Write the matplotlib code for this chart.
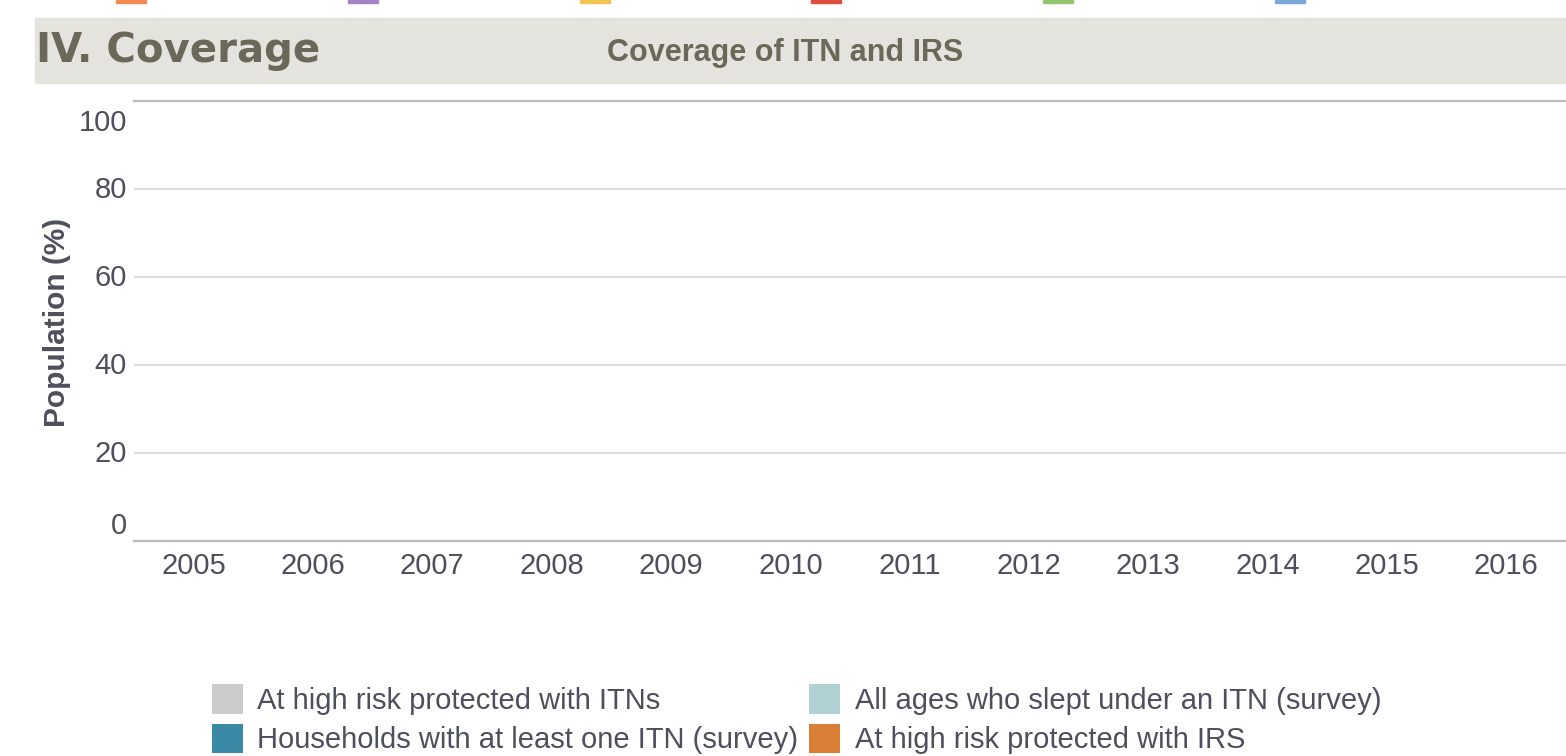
import numpy as np
import matplotlib
matplotlib.use("Agg")
import matplotlib.pyplot as plt
from matplotlib.patches import Rectangle, Patch
from matplotlib.transforms import ScaledTranslation

years = [2005, 2006, 2007, 2008, 2009, 2010, 2011, 2012, 2013, 2014, 2015, 2016]
series_names = ["At high risk protected with ITNs",
                "All ages who slept under an ITN (survey)",
                "Households with at least one ITN (survey)",
                "At high risk protected with IRS"]
series_colors = ["#cccccc", "#b0d1d3", "#3a89a5", "#d97f35"]
# no values are reported for any year
itn_high_risk = [np.nan] * 12
slept_under_itn = [np.nan] * 12
households_itn = [np.nan] * 12
irs_high_risk = [np.nan] * 12
series_values = [itn_high_risk, slept_under_itn, households_itn, irs_high_risk]

yticks = [0, 20, 40, 60, 80, 100]
strip_colors = ["#f28a52", "#a383c6", "#f0c352", "#e04c3d", "#93c46f", "#7aa8da"]

text_col = "#4d4f5c"
head_col = "#6b6859"

W, H = 1566, 756
fig = plt.figure(figsize=(W / 100, H / 100), dpi=100)
fig.patch.set_facecolor("white")

# cut-off legend swatches along the top edge
for i, c in enumerate(strip_colors):
    x0 = 116 + i * 231.8
    fig.patches.append(Rectangle((x0 / W, 1 - 3 / H), 30 / W, 3 / H,
                                 transform=fig.transFigure, color=c))

# header band
fig.patches.append(Rectangle((35 / W, 1 - 83 / H), 1 - 35 / W, 65 / H,
                             transform=fig.transFigure, color="#e4e3de", zorder=0))
fig.text(36 / W, 1 - 51 / H, "IV. Coverage", fontsize=29, fontweight="bold",
         family="DejaVu Sans", color=head_col, va="center", ha="left")
fig.text(785 / W, 1 - 53 / H, "Coverage of ITN and IRS", fontsize=22,
         fontweight="bold", family=["Liberation Sans Narrow", "Liberation Sans"],
         color=head_col, va="center", ha="center")

ax = fig.add_axes([134 / W, 1 - 541 / H, 1 - 134 / W, 440 / H])
x = np.arange(len(years))
bw = 0.8 / len(series_values)
for k, (name, vals, col) in enumerate(zip(series_names, series_values, series_colors)):
    ax.bar(x - 0.4 + bw * (k + 0.5), np.nan_to_num(vals), width=bw, color=col, label=name)

ax.set_xlim(-0.5, len(years) - 0.5)
ax.set_ylim(0, 100)
ax.set_xticks(x)
ax.set_xticklabels([str(y) for y in years], family="Liberation Sans",
                   fontsize=21, color=text_col)
ax.tick_params(axis="x", length=0, pad=8)
ax.set_yticks(yticks)
ax.tick_params(axis="y", length=0, labelleft=False)
ax.grid(axis="y", color="#dddddd", linewidth=1.5)
ax.set_axisbelow(True)
for s in ["left", "right"]:
    ax.spines[s].set_visible(False)
for s in ["top", "bottom"]:
    ax.spines[s].set_color("#bbbbbb")
    ax.spines[s].set_linewidth(1.6)

# y labels: ends pulled inward like the original
for v in yticks:
    dy = -0.01
    if v == 0:
        dy = 0.15
    elif v == 100:
        dy = -0.22
    tr = ax.get_yaxis_transform() + ScaledTranslation(-0.07, dy, fig.dpi_scale_trans)
    ax.text(0, v, str(v), transform=tr, ha="right", va="center",
            family="Liberation Sans", fontsize=21, color=text_col)

fig.text(57 / W, 1 - 322 / H, "Population (%)", rotation=90, fontsize=21.5,
         fontweight="bold", family="Liberation Sans", color=text_col,
         ha="center", va="center")

handles = [Patch(facecolor=c) for c in series_colors]
order = [0, 2, 1, 3]
leg = fig.legend([handles[i] for i in order], [series_names[i] for i in order],
                 ncol=2, loc="upper left", bbox_to_anchor=(212 / W, 1 - 684 / H),
                 frameon=False, prop={"family": "Liberation Sans", "size": 21},
                 handlelength=1.05, handleheight=1.2, handletextpad=0.5,
                 columnspacing=0.38, labelspacing=0.3, borderpad=0, borderaxespad=0)
for t in leg.get_texts():
    t.set_color(text_col)

fig.savefig("out.png", dpi=100)
